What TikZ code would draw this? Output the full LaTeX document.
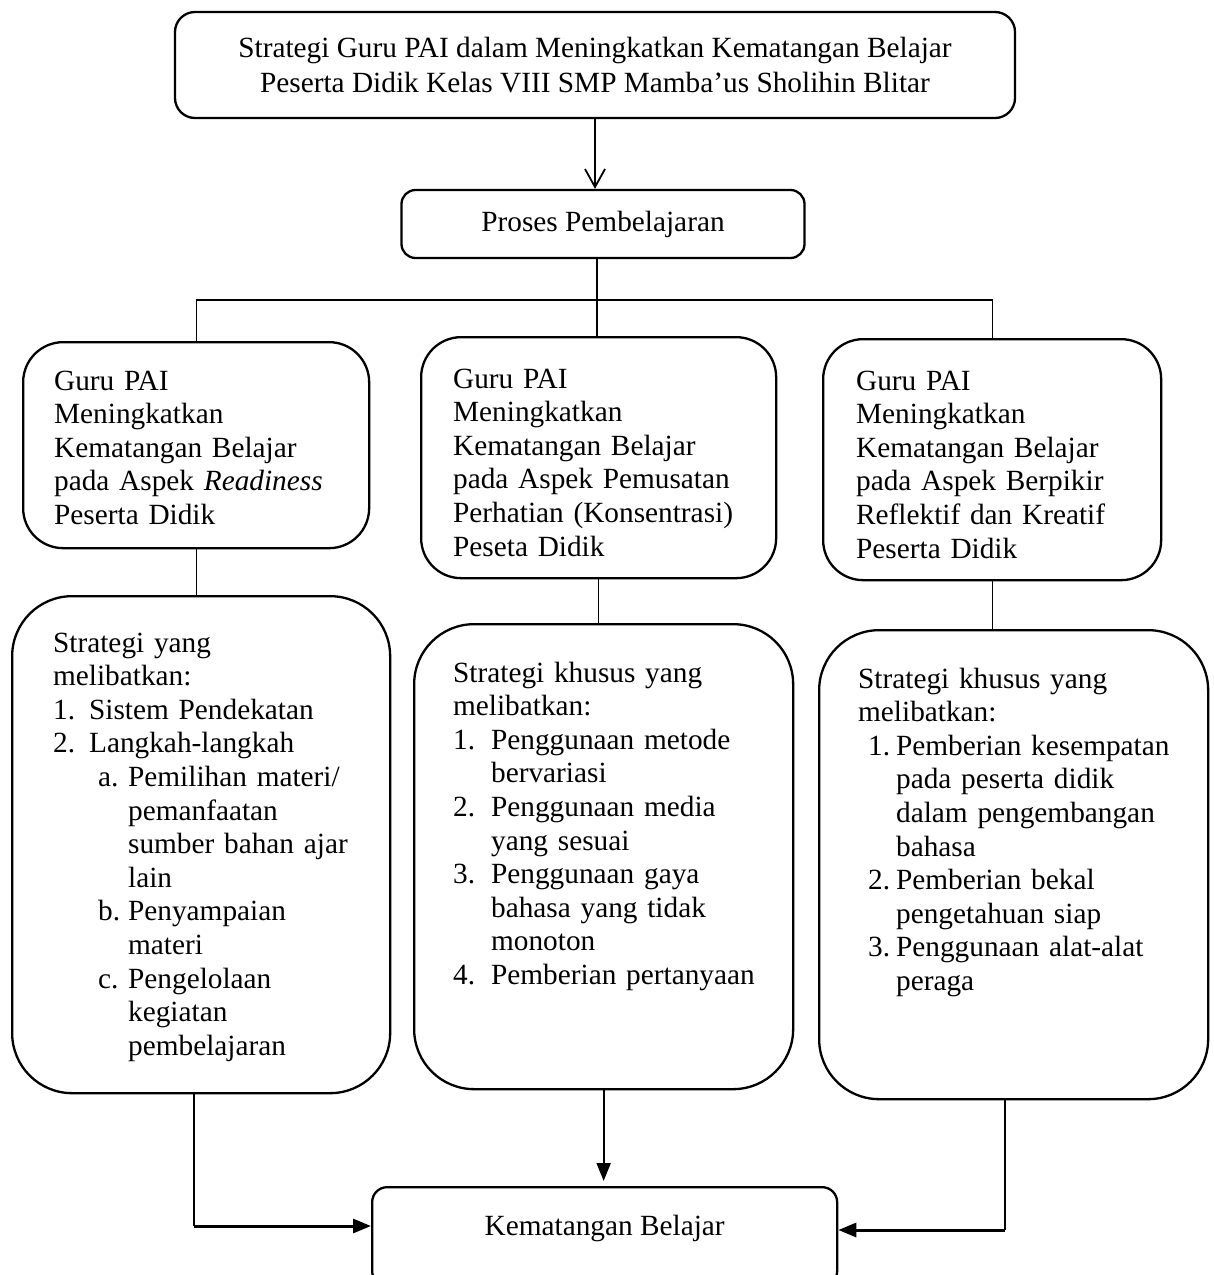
\documentclass[tikz,border=0pt]{standalone}
\usepackage{fontspec}
\setmainfont{Liberation Serif}
\usepackage{tikz}
\usetikzlibrary{arrows.meta}

\hyphenpenalty=10000
\exhyphenpenalty=10000
\newcommand{\nomor}[3]{\hspace*{#1}\makebox[#2][l]{#3}}

\begin{document}
\begin{tikzpicture}[x=1pt,
			y=-1pt,
			font=\fontsize{29.3}{33.6}\selectfont,
			kotak/.style={draw, line width=2.3pt, rounded corners=#1, inner ysep=0pt},
			isi/.style={anchor=north west, align=left},
			garis/.style={line width=1.3pt},
			tebal/.style={line width=3pt, -{Triangle[length=18pt, width=14pt]}}]
			\useasboundingbox (0,0) rectangle (1214,1275);
			\clip (0,0) rectangle (1214,1275);
			\node at (595,65) (a) [kotak=20pt, minimum width = 840pt, minimum height = 106pt, align=center, font=\fontsize{29.3}{35}\selectfont] {Strategi Guru PAI dalam Meningkatkan Kematangan Belajar\\ Peserta Didik Kelas VIII SMP Mamba’us Sholihin Blitar};
			\node at (603,224) (b) [kotak=14pt, minimum width = 403pt, minimum height = 68pt] {Proses Pembelajaran};
			\node at (22,341) (c) [kotak=40pt, isi, inner xsep=31pt, text width = 284pt, text height=48pt, text depth=158pt] {Guru PAI\\ Meningkatkan\\ Kematangan Belajar\\ pada~Aspek~\textit{Readiness}\\ Peserta Didik};
			\node at (420,336) (d) [kotak=40pt, isi, inner xsep=32pt, text width = 291pt, text height=51pt, text depth=190pt] {Guru PAI\\ Meningkatkan\\ Kematangan Belajar\\ pada~Aspek~Pemusatan\\ Perhatian~(Konsentrasi)\\ Peseta Didik};
			\node at (822,338) (e) [kotak=40pt, isi, inner xsep=33pt, text width = 272pt, text height=51pt, text depth=190pt] {Guru PAI\\ Meningkatkan\\ Kematangan~Belajar\\ pada~Aspek~Berpikir\\ Reflektif~dan~Kreatif\\ Peserta Didik};
			\node at (11,595) (f) [kotak=60pt, isi, inner xsep=41pt, text width = 296pt, text height=56pt, text depth=441pt] {Strategi yang\\ melibatkan:\\ \nomor{0pt}{36pt}{1.}Sistem~Pendekatan\\ \nomor{0pt}{36pt}{2.}Langkah-langkah\\ \nomor{45pt}{30pt}{a.}Pemilihan~materi/\\ \hspace*{75pt}pemanfaatan\\ \hspace*{75pt}sumber~bahan~ajar\\ \hspace*{75pt}lain\\ \nomor{45pt}{30pt}{b.}Penyampaian\\ \hspace*{75pt}materi\\ \nomor{45pt}{30pt}{c.}Pengelolaan\\ \hspace*{75pt}kegiatan\\ \hspace*{75pt}pembelajaran};
			\node at (413,623) (g) [kotak=60pt, isi, inner xsep=39pt, text width = 301pt, text height=58pt, text depth=407pt] {Strategi~khusus~yang\\ melibatkan:\\ \nomor{0pt}{38pt}{1.}Penggunaan~metode\\ \hspace*{38pt}bervariasi\\ \nomor{0pt}{38pt}{2.}Penggunaan~media\\ \hspace*{38pt}yang sesuai\\ \nomor{0pt}{38pt}{3.}Penggunaan~gaya\\ \hspace*{38pt}bahasa~yang~tidak\\ \hspace*{38pt}monoton\\ \nomor{0pt}{38pt}{4.}Pemberian~pertanyaan};
			\node at (818,629) (h) [kotak=60pt, isi, inner xsep=39pt, text width = 311pt, text height=58pt, text depth=411pt] {Strategi~khusus~yang\\ melibatkan:\\ \nomor{10pt}{28pt}{1.}Pemberian~kesempatan\\ \hspace*{38pt}pada~peserta~didik\\ \hspace*{38pt}dalam~pengembangan\\ \hspace*{38pt}bahasa\\ \nomor{10pt}{28pt}{2.}Pemberian~bekal\\ \hspace*{38pt}pengetahuan~siap\\ \nomor{10pt}{28pt}{3.}Penggunaan~alat-alat\\ \hspace*{38pt}peraga};
			\node at (371,1186) (i) [kotak=15pt, anchor=north west, minimum width = 465pt, text height=48pt, text depth=51pt] {Kematangan Belajar};
			\coordinate (p) at (597,300);
			\coordinate (q) at (194,1226);
			\coordinate (r) at (1005,1230);
			\draw[garis, line width=1.8pt, -{Straight Barb[length=18pt, width=20pt]}] (a.south) -- (a.south |- b.north);
			\draw[garis] (p |- b.south) -- (p);
			\draw[garis] (c.north) |- (p) -| (e.north);
			\draw[garis, line width=1.8pt] (p) -- (p |- d.north);
			\draw[garis] (c.south) -- (c.south |- f.north);
			\draw[garis] (d.south) -- (d.south |- g.north);
			\draw[garis] (e.south) -- (e.south |- h.north);
			\draw[garis] (q |- f.south) -- (q);
			\draw[tebal] (q) -- (q -| i.west);
			\draw[garis, line width=2pt, shorten >=5pt, -{Triangle[length=18pt, width=14pt]}] (g.south) -- (g.south |- i.north);
			\draw[garis] (r |- h.south) -- (r);
			\draw[tebal] (r) -- (r -| i.east);
		\end{tikzpicture}
\end{document}
